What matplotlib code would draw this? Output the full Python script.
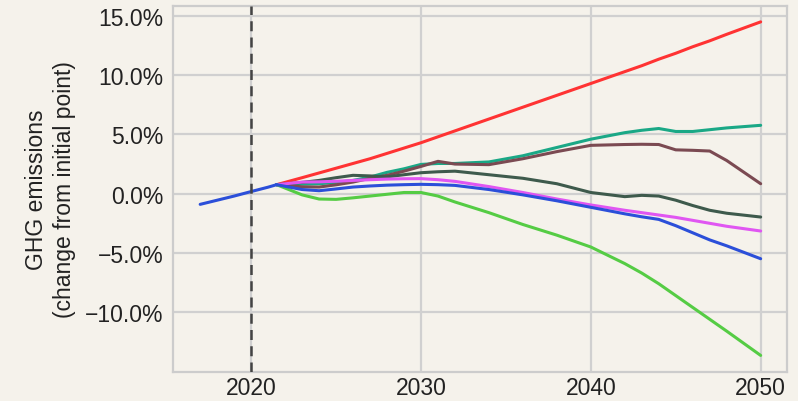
import matplotlib
matplotlib.use("Agg")
import matplotlib.pyplot as plt
from matplotlib.ticker import FuncFormatter

# ── Data (percent change from initial point) ────────────────────────────────
hist_years = [2017, 2018, 2019, 2020, 2021, 2021.5]
hist_vals = [-0.9, -0.55, -0.2, 0.18, 0.55, 0.76]

years = [2021.5, 2023, 2024, 2025, 2026, 2027, 2028, 2029, 2030, 2031, 2032,
         2034, 2036, 2038, 2040, 2042, 2043, 2044, 2045, 2046, 2047, 2048, 2050]

red = [0.76, 1.35, 1.75, 2.15, 2.55, 2.95, 3.4, 3.85, 4.3, 4.8, 5.3,
       6.3, 7.3, 8.3, 9.3, 10.3, 10.8, 11.35, 11.85, 12.4, 12.9, 13.45, 14.5]
teal = [0.76, 0.8, 0.84, 0.95, 1.12, 1.4, 1.8, 2.1, 2.47, 2.55, 2.55,
        2.68, 3.2, 3.9, 4.6, 5.15, 5.35, 5.5, 5.25, 5.25, 5.4, 5.55, 5.77]
brown = [0.76, 0.58, 0.56, 0.75, 0.98, 1.3, 1.55, 1.9, 2.3, 2.73, 2.5,
         2.45, 2.95, 3.55, 4.08, 4.15, 4.17, 4.15, 3.7, 3.66, 3.6, 2.8, 0.84]
darkgrey = [0.76, 0.95, 1.12, 1.35, 1.55, 1.5, 1.42, 1.6, 1.77, 1.85, 1.9,
            1.6, 1.3, 0.84, 0.1, -0.25, -0.14, -0.2, -0.55, -1.0, -1.4, -1.65, -1.97]
magenta = [0.76, 0.98, 1.0, 1.05, 1.12, 1.18, 1.23, 1.26, 1.27, 1.18, 1.04,
           0.6, 0.1, -0.45, -0.95, -1.4, -1.6, -1.8, -2.0, -2.25, -2.5, -2.75, -3.15]
blue = [0.76, 0.35, 0.25, 0.4, 0.56, 0.65, 0.72, 0.76, 0.79, 0.76, 0.7,
        0.35, -0.1, -0.6, -1.15, -1.7, -1.95, -2.17, -2.7, -3.3, -3.9, -4.4, -5.49]
lightgreen = [0.76, -0.1, -0.45, -0.48, -0.35, -0.2, -0.05, 0.1, 0.1, -0.2, -0.7,
              -1.6, -2.6, -3.5, -4.5, -5.9, -6.7, -7.6, -8.6, -9.6, -10.6, -11.6, -13.65]

series = [
    (red, "#ff3333"),
    (teal, "#1aa886"),
    (brown, "#7b4a52"),
    (darkgrey, "#3e5a4c"),
    (magenta, "#e056f2"),
    (lightgreen, "#55cc44"),
    (blue, "#2b4fd9"),
]

x_ticks = [2020, 2030, 2040, 2050]
y_ticks = [-10, -5, 0, 5, 10, 15]

# ── Figure ─────────────────────────────────────────────────────────────────
bg = "#f5f2eb"
plt.rcParams["font.family"] = ["Liberation Sans", "DejaVu Sans"]

fig = plt.figure(figsize=(7.98, 4.02), dpi=100, facecolor=bg)
ax = fig.add_axes([0.2168, 0.0721, 0.7694, 0.9105], facecolor=bg)

for vals, color in series:
    ax.plot(years, vals, color=color, lw=2.2, solid_capstyle="round")
ax.plot(hist_years, hist_vals, color="#2b4fd9", lw=2.2, solid_capstyle="round")

ax.axvline(2020, color="#444444", lw=1.8, ls=(0, (4, 2.5)), zorder=3)

ax.set_xlim(2015.4, 2051.55)
ax.set_ylim(-15.05, 15.84)
ax.set_xticks(x_ticks)
ax.set_yticks(y_ticks)
ax.yaxis.set_major_formatter(
    FuncFormatter(lambda v, _: f"{v:.1f}%".replace("-", "\u2212")))
ax.tick_params(length=0, labelsize=16.5, colors="#222222")
ax.tick_params(axis="x", pad=3)
ax.tick_params(axis="y", pad=7)
ax.grid(True, color="#d0d0d0", lw=1.6)
ax.set_axisbelow(True)
for sp in ax.spines.values():
    sp.set_color("#cccccc")
    sp.set_linewidth(1.6)

ax.set_ylabel("GHG emissions\n(change from initial point)", fontsize=16.5,
              color="#222222", linespacing=1.3, labelpad=6)

fig.savefig("out.png", dpi=100, facecolor=bg)
